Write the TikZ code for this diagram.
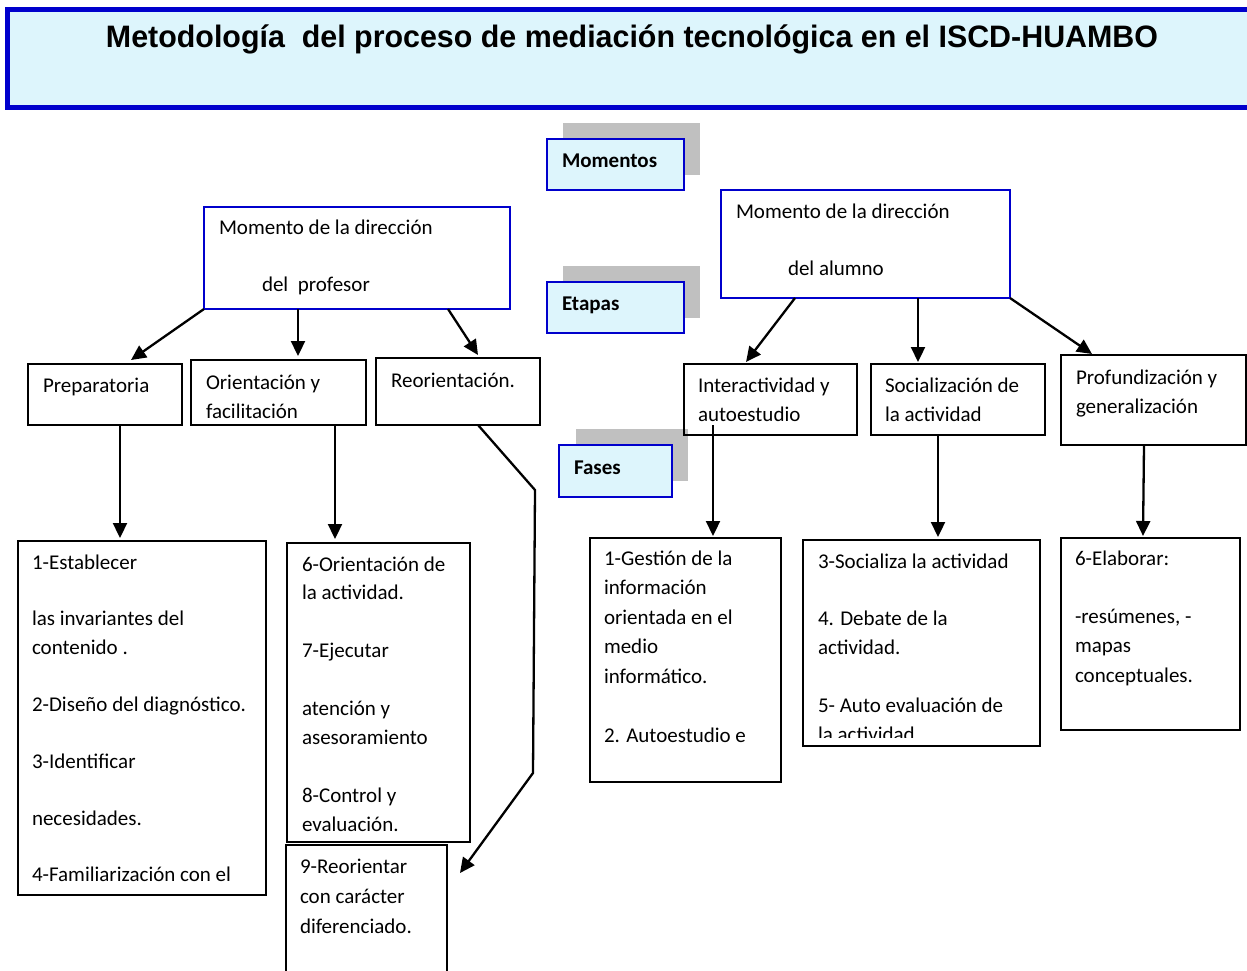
\documentclass[tikz,border=0pt]{standalone}
\usepackage{fontspec}
\setmainfont{Carlito}
\newfontfamily\titlefont{Liberation Sans}
\usetikzlibrary{arrows.meta,backgrounds}
\definecolor{bdblue}{HTML}{0000CC}
\definecolor{lcyan}{HTML}{DDF5FC}
\definecolor{shgray}{HTML}{C0C0C0}
\newcommand{\bodyfont}[1]{\fontsize{21}{#1}\selectfont}
\newcommand{\blk}{\mbox{}}
\begin{document}
\begin{tikzpicture}[x=1pt,y=-1pt,
  every node/.style={inner sep=0pt,outer sep=0pt},
  bluebox/.style={draw=bdblue,line width=1.6pt,anchor=north west},
  blackbox/.style={draw=black,line width=1.6pt,anchor=north west},
  labbox/.style={draw=bdblue,fill=lcyan,line width=1.6pt,anchor=north west},
  shbox/.style={fill=shgray,anchor=north west},
  txt/.style={anchor=base west,font=\bodyfont{29.5}},
  arr/.style={line width=2.3pt,-{Triangle[length=15pt,width=14pt]}},
  thick arr/.style={line width=3.6pt,-{Triangle[length=16pt,width=16pt]}},
  plain/.style={line width=3.4pt}
]
\clip (0,0) rectangle (1247,971);
\fill[white] (0,0) rectangle (1247,971);

% title
\node[draw=bdblue,fill=lcyan,line width=5pt,anchor=north west,minimum width=1260pt,minimum height=97.5pt] (title) at (7.5,10) {};
\node[anchor=base] (ttitle) at (632,48) {\resizebox{1052pt}{\height}{\titlefont\fontsize{31}{36}\selectfont\bfseries Metodología\ \ del proceso de mediación tecnológica en el ISCD-HUAMBO}};

% label boxes with shadows
\node[shbox,minimum width=137pt,minimum height=52pt] (shmom) at (563,123) {};
\node[labbox,minimum width=137pt,minimum height=51pt] (mom) at (547,139) {};
\node[anchor=base west] (tmom) at (562,167) {\bodyfont{25}\bfseries Momentos};
\node[shbox,minimum width=137pt,minimum height=52pt] (sheta) at (563,266) {};
\node[labbox,minimum width=137pt,minimum height=51pt] (eta) at (547,282) {};
\node[anchor=base west] (teta) at (562,310) {\bodyfont{25}\bfseries Etapas};
\node[shbox,minimum width=112pt,minimum height=52pt] (shfas) at (576,429) {};
\node[labbox,minimum width=113pt,minimum height=52pt] (fas) at (559,445) {};
\node[anchor=base west] (tfas) at (574,474) {\bodyfont{25}\bfseries Fases};

% moments
\node[bluebox,minimum width=306pt,minimum height=102pt] (prof) at (204,207) {};
\node[txt] (tprof1) at (219,234) {Momento de la dirección};
\node[txt] (tprof2) at (262,291) {del\ \ profesor};
\node[bluebox,minimum width=289pt,minimum height=108pt] (alu) at (721,190) {};
\node[txt] (talu1) at (736,218) {Momento de la dirección};
\node[txt] (talu2) at (788,275) {del alumno};

% stages
\node[blackbox,minimum width=154pt,minimum height=61pt] (prep) at (28,364) {};
\node[txt] (tprep) at (43,392) {Preparatoria};
\node[blackbox,minimum width=175pt,minimum height=65pt] (ori) at (191,360) {};
\node[txt] (tori) at (206,389) {\parbox[t]{160pt}{\bodyfont{29.5}Orientación y\\facilitación}};
\node[blackbox,minimum width=164pt,minimum height=67pt] (reo) at (376,358) {};
\node[txt] (treo) at (391,387) {Reorientación.};
\node[blackbox,minimum width=173pt,minimum height=71pt] (inter) at (684,364) {};
\node[txt] (tinter) at (698,392) {\parbox[t]{160pt}{\bodyfont{29.5}Interactividad y\\autoestudio}};
\node[blackbox,minimum width=174pt,minimum height=71pt] (soc) at (871,364) {};
\node[txt] (tsoc) at (885,392) {\parbox[t]{160pt}{\bodyfont{29.5}Socialización de\\la actividad}};
\node[blackbox,minimum width=185pt,minimum height=90pt] (pro) at (1061,355) {};
\node[txt] (tpro) at (1076,384) {\parbox[t]{170pt}{\bodyfont{29.5}Profundización y\\generalización}};

% phases
\node[blackbox,minimum width=248pt,minimum height=354pt] (l1) at (18,541) {};
\node[txt] (tl1) at (32,569) {\parbox[t]{232pt}{\bodyfont{28.45}1-Establecer\\\blk\\las invariantes del\\contenido .\\\blk\\2-Diseño del diagnóstico.\\\blk\\3-Identificar\\\blk\\necesidades.\\\blk\\4-Familiarización con el}};
\node[blackbox,minimum width=183pt,minimum height=299pt] (l2) at (287,543) {};
\node[txt] (tl2) at (302,571) {\parbox[t]{170pt}{\bodyfont{28.9}6-Orientación de\\la actividad.\\\blk\\7-Ejecutar\\\blk\\atención y\\asesoramiento\\\blk\\8-Control y\\evaluación.}};
\node[blackbox,minimum width=161pt,minimum height=150pt] (l3) at (286,845) {};
\node[txt] (tl3) at (300,873) {\parbox[t]{150pt}{\bodyfont{30}9-Reorientar\\con carácter\\diferenciado.}};
\node[blackbox,minimum width=191pt,minimum height=244pt] (r1) at (590,538) {};
\node[txt] (tr1) at (604,565) {\parbox[t]{175pt}{\bodyfont{29.5}1-Gestión de la\\información\\orientada en el\\medio\\informático.\\\blk\\2. Autoestudio e}};
\node[blackbox,minimum width=237pt,minimum height=206pt] (r2) at (803,540) {};
\begin{scope}
\clip (803,540) rectangle (1040,737);
\node[txt] (tr2) at (818,568) {\parbox[t]{220pt}{\bodyfont{28.9}3-Socializa la actividad\\\blk\\4. Debate de la\\actividad.\\\blk\\5- Auto evaluación de\\la actividad.}};
\end{scope}
\node[blackbox,minimum width=179pt,minimum height=192pt] (r3) at (1061,538) {};
\node[txt] (tr3) at (1075,565) {\parbox[t]{165pt}{\bodyfont{29.25}6-Elaborar:\\\blk\\-resúmenes, -\\mapas\\conceptuales.}};

% connectors
\begin{scope}[on background layer]
\draw[thick arr] ([xshift=438.5pt]title.south west) -- ([xshift=134pt,yshift=2pt]prof.north west);
\draw[plain] ([xshift=737.5pt]title.south west) -- ([xshift=105pt]alu.north west);
\end{scope}
\draw[arr] (prof.south west) -- ([xshift=103pt,yshift=4pt]prep.north west);
\draw[arr] ([xshift=94pt]prof.south west) -- ([xshift=107pt,yshift=4pt]ori.north west);
\draw[arr] ([xshift=244pt]prof.south west) -- ([xshift=102pt,yshift=3pt]reo.north west);
\draw[arr] ([xshift=74pt]alu.south west) -- ([xshift=62pt,yshift=2pt]inter.north west);
\draw[arr] ([xshift=197pt]alu.south west) -- ([xshift=47pt,yshift=2pt]soc.north west);
\draw[arr] (alu.south east) -- ([xshift=31pt,yshift=1pt]pro.north west);
\draw[arr] ([xshift=92pt]prep.south west) -- ([xshift=102pt,yshift=3pt]l1.north west);
\draw[arr] ([xshift=144pt]ori.south west) -- ([xshift=48pt,yshift=4pt]l2.north west);
\draw[arr] ([xshift=29pt,yshift=10pt]inter.south west) -- ([xshift=123pt,yshift=2pt]r1.north west);
\draw[arr] ([xshift=67pt]soc.south west) -- ([xshift=135pt,yshift=3pt]r2.north west);
\draw[arr] ([xshift=83pt]pro.south west) -- ([xshift=82pt,yshift=2pt]r3.north west);
\coordinate (reotip) at ([xshift=13pt,yshift=-28pt]l3.north east);
\draw[arr] ([xshift=102pt]reo.south west) -- (535,490) -- (533,773) -- (reotip);
\end{tikzpicture}
\end{document}
